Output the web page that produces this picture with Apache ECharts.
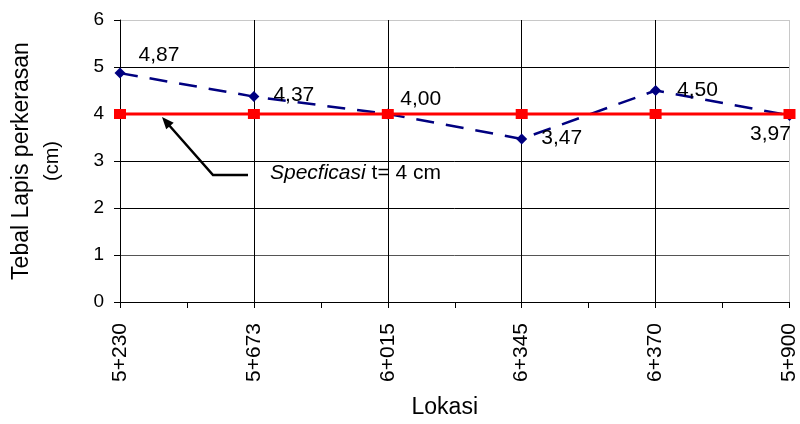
<!DOCTYPE html>
<html>
<head>
<meta charset="utf-8">
<script src="https://cdn.jsdelivr.net/npm/echarts@6/dist/echarts.min.js"></script>
<style>html,body{margin:0;padding:0;background:#fff}#c{width:800px;height:424px}</style>
</head>
<body>
<div id="c"></div>
<script>
var categories = ['5+230', '5+673', '6+015', '6+345', '6+370', '5+900'];
var measured = [4.87, 4.37, 4.00, 3.47, 4.50, 3.97];
var measuredLabels = ['4,87', '4,37', '4,00', '3,47', '4,50', '3,97'];
var spec = [4, 4, 4, 4, 4, 4];
var yTicks = [0, 1, 2, 3, 4, 5, 6];

// label placement (style config)
var labelPlace = [
  {position: 'right', offset: [8, -18]},
  {position: 'right', offset: [9, -1]},
  {position: 'right', offset: [2, -15]},
  {position: 'right', offset: [9, -1]},
  {position: 'right', offset: [11, 0]},
  {position: 'bottom', offset: [-19, -2]}
];

var FONT = '"Liberation Sans", Arial, sans-serif';
var chart = echarts.init(document.getElementById('c'), null, {renderer: 'canvas'});

var blueData = measured.map(function (v, i) {
  return {
    value: v,
    label: {
      show: true,
      position: labelPlace[i].position,
      offset: labelPlace[i].offset,
      distance: 5,
      formatter: measuredLabels[i]
    }
  };
});

chart.setOption({
  animation: false,
  backgroundColor: '#fff',
  grid: {left: 120, right: 10, top: 20, bottom: 120, containLabel: false},
  xAxis: [{
    type: 'category',
    data: categories,
    boundaryGap: false,
    axisLine: {show: true, lineStyle: {color: '#000', width: 1}},
    axisTick: {show: false},
    axisLabel: {rotate: 90, margin: 21, color: '#000', fontSize: 21, fontFamily: FONT},
    splitLine: {show: true, lineStyle: {color: ['#000', '#000', '#000', '#000', '#000', '#c8c8c8'], width: 1}},
    name: 'Lokasi',
    nameLocation: 'middle',
    nameGap: 94,
    nameTextStyle: {color: '#000', fontSize: 23, fontFamily: FONT, padding: [0, 20, 0, 0]}
  }, {
    type: 'value',
    min: 0, max: 5, interval: 0.5,
    position: 'bottom',
    axisLine: {show: false},
    axisTick: {show: true, length: 6, lineStyle: {color: '#000'}},
    axisLabel: {show: false},
    splitLine: {show: false}
  }],
  yAxis: {
    type: 'value',
    min: yTicks[0], max: yTicks[yTicks.length - 1], interval: 1,
    axisLine: {show: true, lineStyle: {color: '#000', width: 1}},
    axisTick: {show: true, length: 6, lineStyle: {color: '#000'}},
    axisLabel: {color: '#000', fontSize: 19, fontFamily: FONT, margin: 16},
    splitLine: {show: true, lineStyle: {color: ['#000', '#555', '#000', '#000', '#000', '#000', '#c8c8c8'], width: 1}},
    name: '{a|Tebal Lapis perkerasan}\n{b|(cm)}',
    nameLocation: 'middle',
    nameRotate: 90,
    nameGap: 50,
    nameTextStyle: {
      color: '#000', fontFamily: FONT, align: 'center',
      rich: {
        a: {fontSize: 23, lineHeight: 24, fontFamily: FONT, color: '#000', align: 'center'},
        b: {fontSize: 20, lineHeight: 36, fontFamily: FONT, color: '#000', align: 'center'}
      }
    }
  },
  series: [{
    name: 'Tebal',
    type: 'line',
    data: blueData,
    symbol: 'diamond',
    symbolSize: [11, 11],
    itemStyle: {color: '#000080'},
    lineStyle: {color: '#000080', width: 2.5, type: [18, 12]},
    label: {color: '#000', fontSize: 21, fontFamily: FONT},
    z: 3
  }, {
    name: 'Spesifikasi',
    type: 'line',
    data: spec,
    symbol: 'rect',
    symbolSize: [12, 10],
    itemStyle: {color: '#ff0000'},
    lineStyle: {color: '#ff0000', width: 3},
    z: 4
  }],
  graphic: [{
    type: 'polyline',
    shape: {points: [[248, 175], [213, 175], [168, 124]]},
    style: {stroke: '#000', lineWidth: 2.5, fill: null},
    z: 10
  }, {
    type: 'polygon',
    shape: {points: [[162, 117], [173.7, 122.7], [166.2, 129.3]]},
    style: {fill: '#000'},
    z: 10
  }, {
    type: 'text',
    left: 270, top: 163,
    style: {
      text: '{i|Specficasi} t= 4 cm',
      fill: '#000',
      font: '21px ' + FONT,
      rich: {i: {fontStyle: 'italic', fontSize: 21, fontFamily: FONT, fill: '#000'}}
    },
    z: 10
  }]
});
</script>
</body>
</html>
